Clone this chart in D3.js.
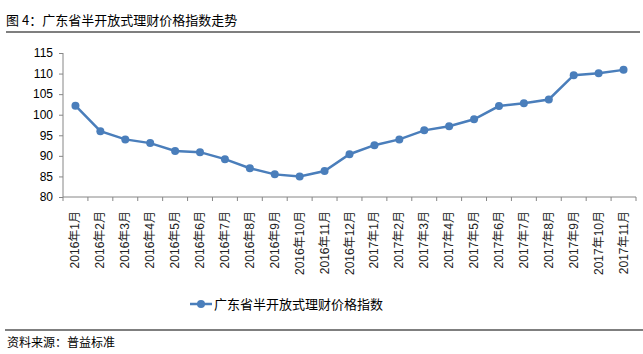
<!DOCTYPE html>
<html>
<head>
<meta charset="utf-8">
<script src="https://cdn.jsdelivr.net/npm/d3@7/dist/d3.min.js"></script>
<style>
  body { margin: 0; background: #fff; }
  svg text { font-family: "Liberation Sans", Arial, "Noto Sans CJK SC", sans-serif; }
  .cjk { font-family: "Noto Sans CJK SC", sans-serif; }
</style>
</head>
<body>
<script>
const months = ['2016年1月', '2016年2月', '2016年3月', '2016年4月', '2016年5月', '2016年6月',
	'2016年7月', '2016年8月', '2016年9月', '2016年10月', '2016年11月', '2016年12月',
	'2017年1月', '2017年2月', '2017年3月', '2017年4月', '2017年5月', '2017年6月',
	'2017年7月', '2017年8月', '2017年9月', '2017年10月', '2017年11月']
const indexValues = [102.2, 96.0, 94.0, 93.1, 91.2, 90.9, 89.2, 87.0, 85.5, 85.0, 86.3, 90.4,
	92.6, 94.0, 96.2, 97.2, 98.9, 102.1, 102.8, 103.7, 109.6, 110.1, 110.9]
const yTicks = [80, 85, 90, 95, 100, 105, 110, 115]
const seriesName = '广东省半开放式理财价格指数'
const title = '图 4：广东省半开放式理财价格指数走势'
const source = '资料来源：普益标准'

const W = 643, H = 354
const margin = { top: 53, right: 7, bottom: 157, left: 63 }
const width = W - margin.left - margin.right
const height = H - margin.top - margin.bottom
const blue = '#4a7ebb'
const axisGrey = '#868686'

const svg = d3.select('body').append('svg')
	.attr('width', W)
	.attr('height', H)

// title + rules
svg.append('text')
	.attr('class', 'cjk')
	.attr('x', 6).attr('y', 25)
	.attr('font-size', 13)
	.text(title)
svg.append('line')
	.attr('x1', 6).attr('x2', 640).attr('y1', 32).attr('y2', 32)
	.attr('stroke', '#000').attr('stroke-width', 1.2)
svg.append('line')
	.attr('x1', 5).attr('x2', 643).attr('y1', 330).attr('y2', 330)
	.attr('stroke', '#000').attr('stroke-width', 1.2)
svg.append('text')
	.attr('class', 'cjk')
	.attr('x', 7).attr('y', 347)
	.attr('font-size', 12)
	.text(source)

const g = svg.append('g')
	.attr('transform', `translate(${margin.left},${margin.top})`)

const x = d3.scaleBand()
	.domain(months)
	.range([0, width])

const y = d3.scaleLinear()
	.domain([80, 115])
	.range([height, 0])

const yAxis = d3.axisLeft(y)
	.tickValues(yTicks)
	.tickSize(4)
	.tickPadding(6)

const yG = g.append('g').call(yAxis)
yG.selectAll('text').attr('font-size', 12).attr('fill', '#000')
yG.selectAll('line, path').attr('stroke', axisGrey)
yG.select('.domain').attr('d', `M0,0V${height}`)

// x axis: ticks at band boundaries
const xG = g.append('g').attr('transform', `translate(0,${height})`)
xG.append('line')
	.attr('x1', 0).attr('x2', width)
	.attr('stroke', axisGrey)
xG.selectAll('.tk')
	.data(months.concat(['end']))
	.enter()
	.append('line')
	.attr('x1', (d, i) => i * x.step())
	.attr('x2', (d, i) => i * x.step())
	.attr('y1', 0).attr('y2', 4)
	.attr('stroke', axisGrey)
xG.selectAll('.lbl')
	.data(months)
	.enter()
	.append('text')
	.attr('transform', d => `translate(${x(d) + x.bandwidth() / 2 + 4},${14}) rotate(-90)`)
	.attr('text-anchor', 'end')
	.attr('font-size', 12)
	.attr('fill', '#222')
	.text(d => d)

const line = d3.line()
	.x((d, i) => x(months[i]) + x.bandwidth() / 2)
	.y(d => y(d))

g.append('path')
	.datum(indexValues)
	.attr('d', line)
	.attr('fill', 'none')
	.attr('stroke', blue)
	.attr('stroke-width', 2.5)

g.selectAll('.dot')
	.data(indexValues)
	.enter()
	.append('circle')
	.attr('cx', (d, i) => x(months[i]) + x.bandwidth() / 2)
	.attr('cy', d => y(d))
	.attr('r', 4)
	.attr('fill', blue)

// legend
const lg = svg.append('g').attr('transform', 'translate(190,304)')
lg.append('line')
	.attr('x1', 0).attr('x2', 22)
	.attr('stroke', blue).attr('stroke-width', 2.5)
lg.append('circle')
	.attr('cx', 11).attr('r', 4)
	.attr('fill', blue)
lg.append('text')
	.attr('class', 'cjk')
	.attr('x', 24).attr('y', 5)
	.attr('font-size', 13)
	.text(seriesName)
</script>
</body>
</html>
